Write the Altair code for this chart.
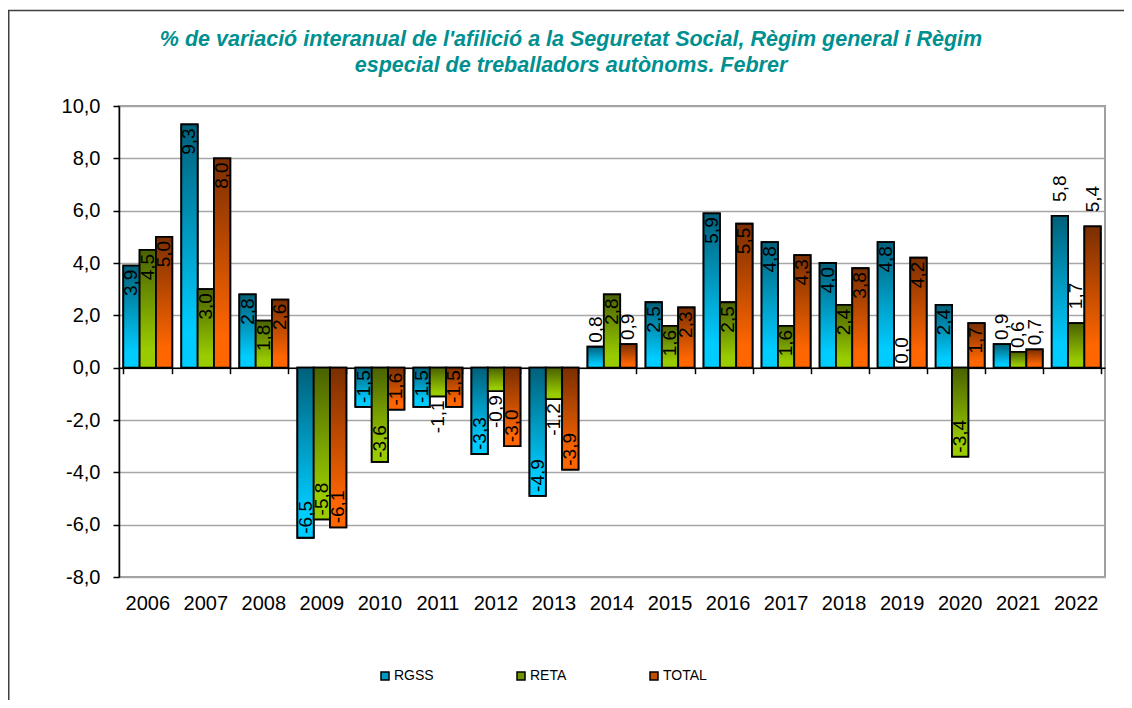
import altair as alt
import pandas as pd

FONT = "Liberation Sans, Arial, sans-serif"

years = [str(y) for y in range(2006, 2023)]
series = ["RGSS", "RETA", "TOTAL"]
rgss = [3.9, 9.3, 2.8, -6.5, -1.5, -1.5, -3.3, -4.9, 0.8, 2.5, 5.9, 4.8, 4.0, 4.8, 2.4, 0.9, 5.8]
reta = [4.5, 3.0, 1.8, -5.8, -3.6, -1.1, -0.9, -1.2, 2.8, 1.6, 2.5, 1.6, 2.4, 0.0, -3.4, 0.6, 1.7]
total = [5.0, 8.0, 2.6, -6.1, -1.6, -1.5, -3.0, -3.9, 0.9, 2.3, 5.5, 4.3, 3.8, 4.2, 1.7, 0.7, 5.4]
y_ticks = [-8, -6, -4, -2, 0, 2, 4, 6, 8, 10]
title_lines = [
    "% de variació interanual de l'afilició a la Seguretat Social, Règim general i Règim",
    "especial de treballadors autònoms. Febrer",
]

rows = []
for name, vals in zip(series, [rgss, reta, total]):
    for yr, v in zip(years, vals):
        rows.append({"year": yr, "series": name, "value": v})
df = pd.DataFrame(rows)

W, H = 986, 471
YMIN, YMAX = -8, 10
zero_offset = -(H * (0 - YMIN) / (YMAX - YMIN))

dark = {"RGSS": "#00607a", "RETA": "#4a6100", "TOTAL": "#7a2e00"}
light = {"RGSS": "#00ccff", "RETA": "#99cc00", "TOTAL": "#ff6600"}
mid = ["#0099c4", "#6f9400", "#c24e00"]

FMT = "(datum.value < 0 ? '-' : '') + replace(format(abs(datum.value), '.1f'), '.', ',')"


def grad(s):
    return {
        "gradient": "linear", "x1": 0, "y1": 0, "x2": 0, "y2": 1,
        "stops": [
            {"offset": 0, "color": dark[s]},
            {"offset": 0.85, "color": light[s]},
            {"offset": 1, "color": light[s]},
        ],
    }


x_scale = alt.Scale(domain=years, paddingInner=0.156, paddingOuter=0.074)
xo_scale = alt.Scale(domain=series, paddingInner=0, paddingOuter=0)
y_scale = alt.Scale(domain=[YMIN, YMAX], nice=False, zero=False)

base = alt.Chart(df)

main_x_axis = alt.Axis(
    orient="bottom", title=None, labelAngle=0, labelFont=FONT, labelFontSize=20,
    labelColor="black", ticks=False, domain=False, labelPadding=16, grid=False,
)
zero_x_axis = alt.Axis(
    orient="bottom", title=None, labels=False, ticks=True, tickBand="extent", tickSize=6,
    tickColor="black", tickWidth=1.5, domain=True, domainColor="black",
    domainWidth=1.5, grid=False, offset=zero_offset,
)
y_axis = alt.Axis(
    title=None, values=y_ticks, labelExpr=FMT,
    labelFont=FONT, labelFontSize=20, labelColor="black", labelPadding=13,
    tickSize=6, tickColor="black", tickWidth=1.5, domainColor="black", domainWidth=1.5,
    grid=True, gridColor="#a6a6a6", gridWidth=1.5,
)

legend = alt.Legend(
    title=None, orient="none", legendX=259, legendY=563, direction="horizontal",
    columnPadding=80, symbolType="square", symbolSize=64, symbolStrokeColor="black",
    symbolStrokeWidth=1.5, symbolOpacity=1, labelFont=FONT, labelFontSize=14,
    labelColor="black", labelOffset=2,
)

bars_base = base.mark_bar(stroke="black", strokeWidth=1.8).encode(
    x=alt.X("year:N", scale=x_scale, sort=years, axis=main_x_axis),
    xOffset=alt.XOffset("series:N", scale=xo_scale, sort=series),
    y=alt.Y("value:Q", scale=y_scale, axis=y_axis),
    color=alt.Color("series:N", scale=alt.Scale(domain=series, range=mid), legend=legend),
)

grad_layers = []
for i, s in enumerate(series):
    layer = base.transform_filter(alt.datum.series == s).mark_bar(
        fill=grad(s), stroke="black", strokeWidth=1.8
    ).encode(
        x=alt.X("year:N", scale=x_scale, sort=years, axis=zero_x_axis if i == 0 else None),
        xOffset=alt.XOffset("series:N", scale=xo_scale, sort=series),
        y=alt.Y("value:Q", scale=y_scale, axis=y_axis),
    )
    grad_layers.append(layer)

labels = base.transform_calculate(
    lab=FMT,
    outside="abs(datum.value) < 1.3 || datum.year == '2022'",
    far="datum.year == '2022'",
)
common = dict(
    x=alt.X("year:N", scale=x_scale, sort=years, axis=None),
    xOffset=alt.XOffset("series:N", scale=xo_scale, sort=series),
    y=alt.Y("value:Q", scale=y_scale, axis=y_axis),
    text="lab:N",
)
lab_right = labels.transform_filter(
    "(datum.value >= 0 && !datum.outside) || (datum.value < 0 && datum.outside)"
).mark_text(angle=270, align="right", baseline="middle", dx=-4, font=FONT,
            fontSize=19, color="black").encode(**common)
lab_left = labels.transform_filter(
    "((datum.value >= 0 && datum.outside) || (datum.value < 0 && !datum.outside)) && !datum.far"
).mark_text(angle=270, align="left", baseline="middle", dx=4, font=FONT,
            fontSize=19, color="black").encode(**common)
lab_far = labels.transform_filter("datum.far").mark_text(
    angle=270, align="left", baseline="middle", dx=14, font=FONT,
    fontSize=19, color="black").encode(**common)

frame = alt.Chart(pd.DataFrame({"k": [0]})).mark_rect(
    filled=False, stroke="#404040", strokeWidth=1.5
).encode(
    x=alt.value(-110.25), x2=alt.value(1100), y=alt.value(-95.5), y2=alt.value(700)
)

chart = alt.layer(
    frame, bars_base, *grad_layers, lab_right, lab_left, lab_far
).resolve_axis(x="independent").properties(
    width=W, height=H,
    autosize=alt.AutoSizeParams(type="none"),
    padding={"left": 111, "top": 98, "right": 19, "bottom": 123},
    background="white",
    title=alt.TitleParams(
        text=title_lines, font=FONT, fontSize=21.5, fontStyle="italic", fontWeight="bold",
        color="#009090", anchor="middle", frame="group", dx=-41, offset=-89,
        lineHeight=26, baseline="bottom",
    ),
).configure_view(stroke="#a0a0a0", strokeWidth=2)

chart.save("out.html", embed_options={"renderer": "svg", "actions": False})
